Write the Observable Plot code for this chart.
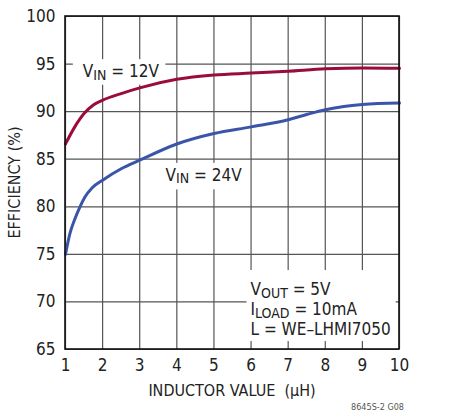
<!DOCTYPE html>
<html><head><meta charset="utf-8">
<script src="https://cdn.jsdelivr.net/npm/d3@7"></script>
<script src="https://cdn.jsdelivr.net/npm/@observablehq/plot@0.6"></script>
<style>
body{margin:0;background:#fff;}
#chart{width:457px;height:411px;}
</style></head>
<body><div id="chart"></div>
<script>
const FONT = '"Liberation Sans Narrow","DejaVu Sans Condensed",sans-serif';

// VIN = 12V curve
const inductance12 = [1, 1.25, 1.5, 1.75, 2, 2.5, 3, 4, 5, 6, 7, 8, 9, 10];
const efficiency12 = [86.6, 88.4, 89.8, 90.7, 91.2, 91.9, 92.5, 93.4, 93.85, 94.05, 94.25, 94.5, 94.6, 94.55];
// VIN = 24V curve
const inductance24 = [1, 1.12, 1.25, 1.39, 1.52, 1.72, 2, 2.5, 3, 4, 5, 6, 7, 7.5, 8, 8.5, 9, 10];
const efficiency24 = [75, 77.2, 78.7, 80.0, 81.0, 82.0, 82.8, 84.0, 84.9, 86.6, 87.7, 88.4, 89.15, 89.7, 90.2, 90.55, 90.75, 90.9];

const xTicks = [1, 2, 3, 4, 5, 6, 7, 8, 9, 10];
const yTicks = [65, 70, 75, 80, 85, 90, 95, 100];

const series12 = inductance12.map((x, i) => ({x, y: efficiency12[i]}));
const series24 = inductance24.map((x, i) => ({x, y: efficiency24[i]}));

const plot = Plot.plot({
  width: 457, height: 411,
  marginLeft: 65, marginRight: 58, marginTop: 16, marginBottom: 62,
  style: {fontFamily: FONT, fontSize: "17px", color: "#222", background: "white"},
  x: {domain: [1, 10]},
  y: {domain: [65, 100]},
  marks: [
    Plot.gridX(xTicks, {stroke: "#555", strokeOpacity: 1, strokeWidth: 1.2}),
    Plot.gridY(yTicks, {stroke: "#555", strokeOpacity: 1, strokeWidth: 1.2}),
    Plot.line(series12, {x: "x", y: "y", stroke: "#9a0d3b", strokeWidth: 3, curve: "monotone-x"}),
    Plot.line(series24, {x: "x", y: "y", stroke: "#3a55a8", strokeWidth: 3, curve: "monotone-x"}),
    Plot.axisX(xTicks, {tickSize: 0, tickPadding: 9, label: null}),
    Plot.axisY(yTicks, {tickSize: 0, tickPadding: 10, label: null})
  ]
});
document.getElementById("chart").appendChild(plot);

const sx = plot.scale("x"), sy = plot.scale("y");
const svg = d3.select(plot);
const ann = svg.insert("g", 'g[aria-label="line"]')
  .attr("font-family", FONT).attr("fill", "#222").attr("text-anchor", "start");

function label(x, y, lines, pad) {
  const g = ann.append("g");
  const rect = g.append("rect").attr("fill", "white");
  const t = g.append("text").attr("font-size", 17).attr("text-anchor", "start");
  lines.forEach((parts, li) => {
    let shifted = 0;
    parts.forEach(([s, sub], pi) => {
      const ts = t.append("tspan").text(s);
      if (pi === 0) ts.attr("x", sx.apply(x)).attr("y", sy.apply(y) + 6 + li * 20);
      if (sub) { ts.attr("font-size", 14).attr("dy", 2.5); shifted = 2.5; }
      else if (pi > 0 && shifted) { ts.attr("dy", -shifted); shifted = 0; }
    });
  });
  const b = t.node().getBBox();
  rect.attr("x", b.x - pad[0]).attr("y", b.y - pad[1]).attr("width", b.width + pad[0] + pad[2]).attr("height", b.height + pad[1] + pad[3]);
}

label(1.48, 94.2, [[["V"], ["IN", true], [" = 12V"]]], [10, 2, 6, 2]);
label(3.71, 83.3, [[["V"], ["IN", true], [" = 24V"]]], [5, 2, 6, 3]);
label(6.0, 71.3, [
  [["V"], ["OUT", true], [" = 5V"]],
  [["I"], ["LOAD", true], [" = 10mA"]],
  [["L = WE\u2013LHMI7050"]]
], [4, 9, 5, 2]);

// frame on top
svg.append("rect")
  .attr("x", sx.apply(1)).attr("y", sy.apply(100))
  .attr("width", sx.apply(10) - sx.apply(1)).attr("height", sy.apply(65) - sy.apply(100))
  .attr("fill", "none").attr("stroke", "#111").attr("stroke-width", 1.6);

// axis titles
svg.append("text").attr("font-family", FONT).attr("font-size", 16).attr("fill", "#222")
  .attr("text-anchor", "middle").attr("x", (sx.apply(1) + sx.apply(10)) / 2).attr("y", 396)
  .text("INDUCTOR VALUE  (\u00b5H)").style("white-space", "pre");
svg.append("text").attr("font-family", FONT).attr("font-size", 16).attr("fill", "#222")
  .attr("text-anchor", "middle")
  .attr("transform", `translate(20,${(sy.apply(65) + sy.apply(100)) / 2}) rotate(-90)`)
  .text("EFFICIENCY (%)");
svg.append("text").attr("font-family", FONT).attr("font-size", 9).attr("fill", "#555")
  .attr("text-anchor", "end").attr("x", 404).attr("y", 410).text("8645S-2 G08");
</script>
</body></html>
